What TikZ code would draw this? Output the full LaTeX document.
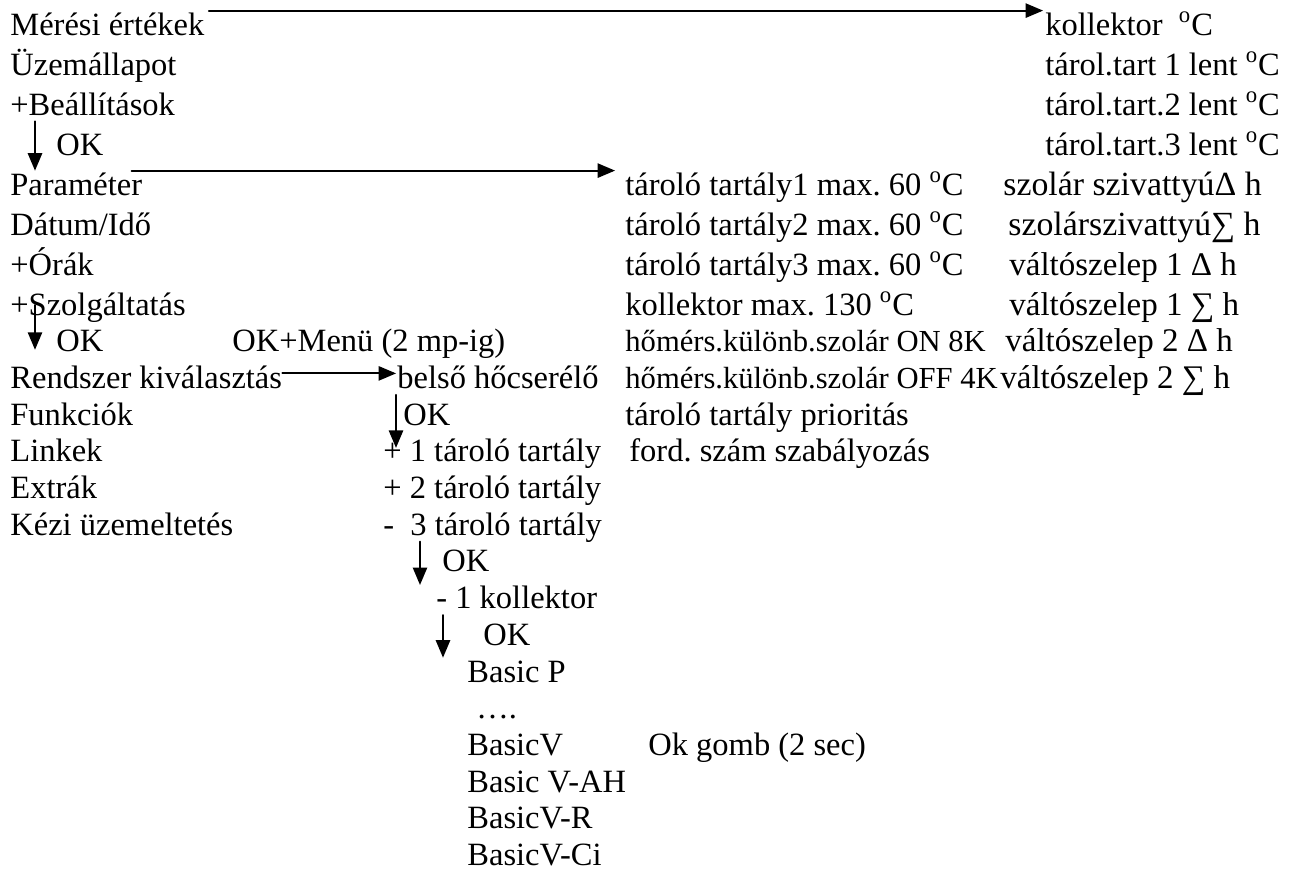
\documentclass[tikz,border=0pt]{standalone}
\usepackage{fontspec}
\setmainfont{Liberation Serif}
\usepackage{tikz}
\usetikzlibrary{arrows}
\frenchspacing

\begin{document}
\begin{tikzpicture}[line cap=round,line join=round,>=triangle 45,x=0.5pt,y=-0.5pt,
  font=\fontsize{16.25}{19.5}\selectfont,
  txt/.style={anchor=base west,inner sep=0pt,text height=12pt,text depth=3pt},
  narrowtxt/.style={txt,font=\fontsize{15.3}{18}\selectfont},
  widetxt/.style={txt,font=\fontsize{16.9}{20}\selectfont},
  valtotxt/.style={txt,font=\fontsize{16.5}{20}\selectfont},
  arr/.style={->,line width=1pt}]
\useasboundingbox (0,0) rectangle (1302,873);
% left column
\node[txt] (meres) at (10,35) {Mérési értékek};
\node[txt] (uzem) at (10,75) {Üzemállapot};
\node[txt] (beall) at (10,115) {+Beállítások};
\node[txt] (okA) at (56,155) {OK};
\node[txt] (param) at (10,195) {Paraméter};
\node[txt] (datum) at (10,235) {Dátum/Idő};
\node[txt] (orak) at (10,275) {+Órák};
\node[txt] (szolg) at (10,315) {+Szolgáltatás};
\node[txt] (okB) at (56,351.7) {OK};
\node[txt] (menu) at (232,351.7) {OK+Menü (2 mp-ig)};
\node[txt] (rendszer) at (10,388.4) {Rendszer kiválasztás};
\node[txt] (funkc) at (10,425.1) {Funkciók};
\node[txt] (linkek) at (10,461.8) {Linkek};
\node[txt] (extrak) at (10,498.5) {Extrák};
\node[txt] (kezi) at (10,535.2) {Kézi üzemeltetés};
% system branch
\node[txt] (belso) at (397,388.4) {belső hőcserélő};
\node[txt] (okE) at (403,425.1) {OK};
\node[txt] (t1) at (383,461.8) {+ 1 tároló tartály};
\node[txt] (t2) at (383,498.5) {+ 2 tároló tartály};
\node[txt] (t3) at (383,535.2) {-\ \ 3 tároló tartály};
\node[txt] (okC) at (442,571.9) {OK};
\node[txt] (kol1) at (436,608.6) {- 1 kollektor};
\node[txt] (okD) at (483,645.3) {OK};
\node[txt] (basicp) at (467,682) {Basic P};
\node[txt] (dots) at (476,718.7) {….};
\node[txt] (basicv) at (467,755.4) {BasicV};
\node[txt] (okgomb) at (648,755.4) {Ok gomb (2 sec)};
\node[txt] (basicvah) at (467,792.1) {Basic V-AH};
\node[txt] (basicvr) at (467,828.8) {BasicV-R};
\node[txt] (basicvci) at (467,865.5) {BasicV-Ci};
% parameter column
\node[txt] (max1) at (625,195) {tároló tartály1 max. 60 \textsuperscript{o}C};
\node[txt] (max2) at (625,235) {tároló tartály2 max. 60 \textsuperscript{o}C};
\node[txt] (max3) at (625,275) {tároló tartály3 max. 60 \textsuperscript{o}C};
\node[txt] (kolmax) at (625,315) {kollektor max. 130 \textsuperscript{o}C};
\node[narrowtxt] (hoon) at (625,351.7) {hőmérs.különb.szolár ON 8K};
\node[narrowtxt] (hooff) at (625,388.4) {hőmérs.különb.szolár OFF 4K};
\node[txt] (prior) at (625,425.1) {tároló tartály prioritás};
\node[txt] (ford) at (629,461.8) {ford. szám szabályozás};
% measured values column
\node[txt] (kolc) at (1045,35) {kollektor \ \textsuperscript{o}C};
\node[txt] (lent1) at (1045,75) {tárol.tart 1 lent \textsuperscript{o}C};
\node[txt] (lent2) at (1045,115) {tárol.tart.2 lent \textsuperscript{o}C};
\node[txt] (lent3) at (1045,155) {tárol.tart.3 lent \textsuperscript{o}C};
\node[widetxt] (szdelta) at (1003,195) {szolár szivattyúΔ h};
\node[widetxt] (szsum) at (1008,235) {szolárszivattyú∑ h};
\node[valtotxt] (v1d) at (1009,275) {váltószelep 1 Δ h};
\node[valtotxt] (v1s) at (1009,315) {váltószelep 1 ∑ h};
\node[valtotxt] (v2d) at (1005,351.7) {váltószelep 2 Δ h};
\node[valtotxt] (v2s) at (1000,388.4) {váltószelep 2 ∑ h};
% arrows
\draw[arr] ([xshift=2pt]meres.north east) -- ([xshift=-1pt]kolc.north west);
\draw[arr] ([xshift=12.5pt]beall.south west) -- ([xshift=12.5pt]param.north west);
\draw[arr] ([xshift=-5.5pt]param.north east) -- ([xshift=-5pt]max1.north west);
\draw[arr] ([xshift=12.5pt,yshift=5pt]szolg.base west) -- ([xshift=-10.5pt,yshift=1pt]okB.base west);
\draw[arr] ([yshift=7.5pt]rendszer.base east) -- ([xshift=-0.5pt,yshift=7.5pt]belso.base west);
\draw[arr] ([xshift=-0.5pt]belso.south west) -- ([xshift=6.5pt,yshift=7pt]t1.base west);
\draw[arr] ([xshift=18.5pt]t3.south west) -- ([xshift=-11pt,yshift=-6.5pt]okC.base west);
\draw[arr] ([xshift=3.5pt]kol1.south west) -- ([xshift=-12pt]basicp.north west);
\end{tikzpicture}
\end{document}
